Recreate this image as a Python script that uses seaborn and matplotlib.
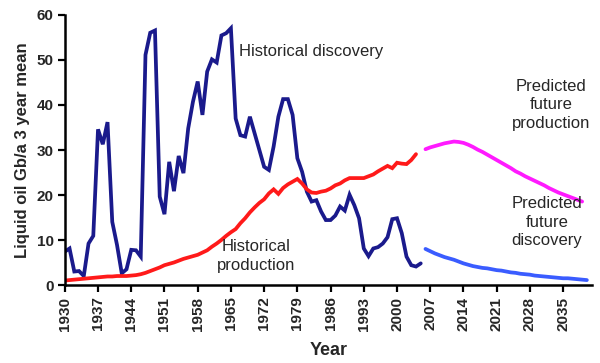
import pandas as pd
import matplotlib
matplotlib.use("Agg")
import matplotlib.pyplot as plt
import seaborn as sns

# 過去の発見量 (Gb/a, 3年移動平均)
disc_years = list(range(1930, 2006))
disc_values = [
    7.5, 8.2, 3.1, 3.2, 2.1, 9.3, 11.0, 34.6, 31.3, 36.2,
    14.1, 9.0, 2.7, 3.6, 7.9, 7.8, 6.4, 51.1, 56.0, 56.5,
    19.7, 15.8, 27.4, 20.9, 28.7, 24.9, 34.8, 40.7, 45.2, 37.8,
    47.4, 50.1, 49.4, 55.4, 55.9, 57.0, 37.0, 33.3, 33.0, 37.4,
    33.7, 30.0, 26.3, 25.6, 30.8, 37.4, 41.3, 41.3, 37.8, 28.2,
    25.2, 20.8, 18.6, 18.9, 16.4, 14.5, 14.5, 15.5, 17.5, 16.6,
    20.1, 17.8, 14.9, 8.2, 6.5, 8.2, 8.5, 9.3, 10.7, 14.7,
    14.9, 11.6, 6.4, 4.5, 4.2, 4.9,
]

# 過去の生産量
prod_years = list(range(1930, 2005))
prod_values = [
    1.1, 1.2, 1.3, 1.4, 1.5, 1.6, 1.7, 1.8, 1.9, 2.0,
    2.0, 2.1, 2.1, 2.1, 2.2, 2.3, 2.5, 2.8, 3.2, 3.6,
    4.0, 4.5, 4.8, 5.1, 5.5, 5.9, 6.2, 6.5, 6.8, 7.3,
    7.8, 8.6, 9.3, 10.1, 11.0, 11.8, 12.5, 13.8, 14.9, 16.2,
    17.3, 18.3, 19.1, 20.4, 21.3, 20.3, 21.6, 22.4, 23.0, 23.6,
    22.6, 21.3, 20.6, 20.5, 20.8, 21.0, 21.5, 22.2, 22.6, 23.3,
    23.8, 23.8, 23.8, 23.8, 24.2, 24.6, 25.3, 25.9, 26.5, 26.0,
    27.2, 27.0, 26.9, 27.8, 29.1,
]

# 将来の生産量 (予測)
fprod_years = list(range(2006, 2040))
fprod_values = [
    30.2, 30.6, 30.9, 31.2, 31.5, 31.7, 31.9, 31.8, 31.6, 31.2,
    30.7, 30.1, 29.6, 29.0, 28.4, 27.8, 27.2, 26.6, 26.0, 25.3,
    24.8, 24.2, 23.7, 23.2, 22.7, 22.2, 21.6, 21.1, 20.6, 20.2,
    19.8, 19.4, 19.0, 18.6,
]

# 将来の発見量 (予測)
fdisc_years = list(range(2006, 2041))
fdisc_values = [
    8.1, 7.6, 7.1, 6.7, 6.3, 6.0, 5.7, 5.3, 4.9, 4.6,
    4.3, 4.1, 3.9, 3.8, 3.6, 3.4, 3.3, 3.1, 2.9, 2.8,
    2.6, 2.5, 2.4, 2.2, 2.1, 2.0, 1.9, 1.8, 1.7, 1.6,
    1.6, 1.5, 1.4, 1.3, 1.2,
]

tick_years = list(range(1930, 2036, 7))

sns.set_theme(style="ticks")
plt.rcParams['font.family'] = ['Liberation Sans', 'DejaVu Sans']

fig = plt.figure(figsize=(6, 3.63), dpi=100)
ax = fig.add_axes([0.108, 0.2135, 0.878, 0.746])

series = [
    (disc_years, disc_values, "#1a1a8c"),
    (prod_years, prod_values, "#ff1a1a"),
    (fprod_years, fprod_values, "#ff1aff"),
    (fdisc_years, fdisc_values, "#3a5cff"),
]
for xs, ys, color in series:
    df = pd.DataFrame({"year": xs, "value": ys})
    sns.lineplot(data=df, x="year", y="value", ax=ax, color=color,
                 linewidth=2.7, solid_joinstyle="miter")

ax.set_xlim(1930, 2041)
ax.set_ylim(0, 60)
ax.set_xticks(tick_years)
ax.set_xticklabels([str(y) for y in tick_years], rotation=90,
                   fontsize=11, fontweight="bold")
ax.set_yticks(range(0, 61, 10))
ax.set_yticklabels([str(v) for v in range(0, 61, 10)],
                   fontsize=11, fontweight="bold")
ax.tick_params(axis="both", direction="out", length=5, width=1.6,
               color="black", pad=3)

for side in ["top", "right"]:
    ax.spines[side].set_visible(False)
for side in ["left", "bottom"]:
    ax.spines[side].set_linewidth(1.8)
    ax.spines[side].set_color("black")

ax.set_xlabel("Year", fontsize=13, fontweight="bold", labelpad=8)
ax.set_ylabel("Liquid oil Gb/a 3 year mean", fontsize=12,
              fontweight="bold", labelpad=5)

ax.text(1966.8, 51.8, "Historical discovery", fontsize=12, ha="left", va="center")
ax.text(1970.3, 6.5, "Historical\nproduction", fontsize=12, ha="center",
        va="center", linespacing=1.3)
ax.text(2032.5, 40.0, "Predicted\nfuture\nproduction", fontsize=12,
        ha="center", va="center", linespacing=1.3)
ax.text(2031.6, 14.0, "Predicted\nfuture\ndiscovery", fontsize=12,
        ha="center", va="center", linespacing=1.3)

fig.savefig("out.png", dpi=100)
